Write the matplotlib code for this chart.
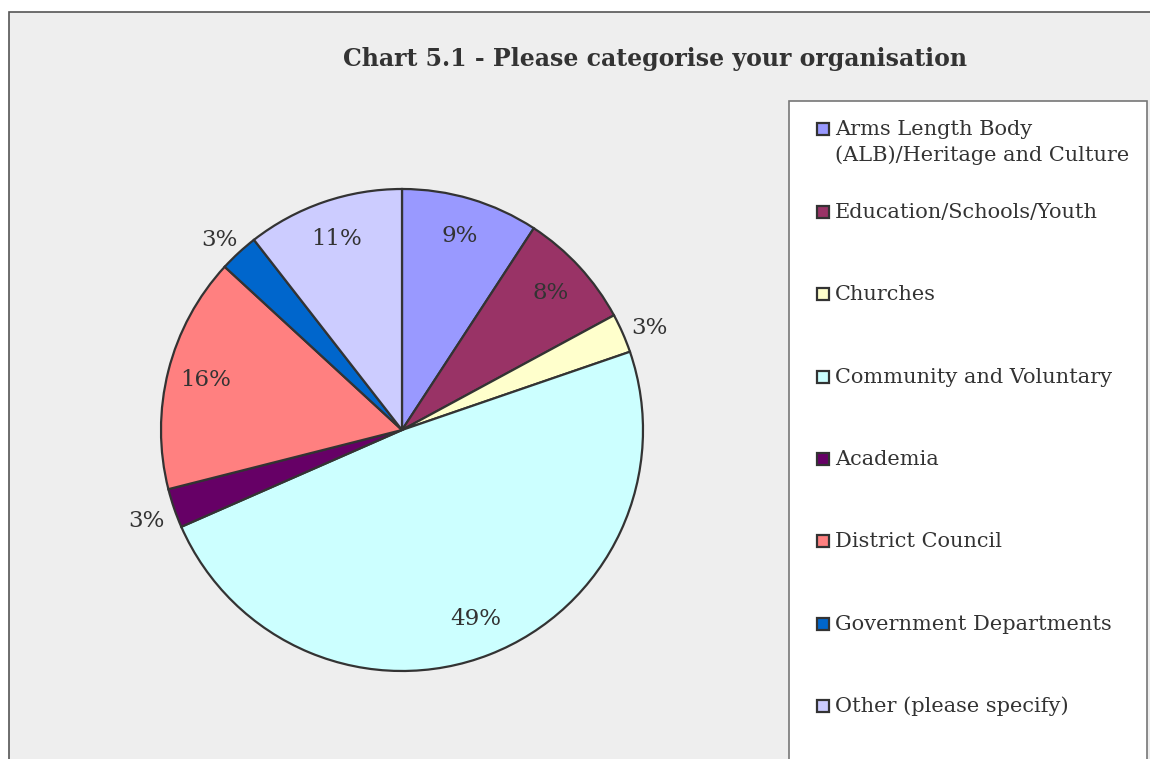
"""Chart 5.1 - pie of organisation categories, Excel-style layout."""

import matplotlib
matplotlib.use("Agg")
import matplotlib.pyplot as plt
import numpy as np
from matplotlib.patches import Rectangle

categories = [
    "Arms Length Body\n(ALB)/Heritage and Culture",
    "Education/Schools/Youth",
    "Churches",
    "Community and Voluntary",
    "Academia",
    "District Council",
    "Government Departments",
    "Other (please specify)",
]
counts = [7, 6, 2, 37, 2, 12, 2, 8]
colours = ["#9999FF", "#993366", "#FFFFCC", "#CCFFFF",
           "#660066", "#FF8080", "#0066CC", "#CCCCFF"]

TITLE = "Chart 5.1 - Please categorise your organisation"
TEXT = "#333333"
EDGE = "#333333"
FONT = "DejaVu Serif"

W, H = 1150, 759
fig = plt.figure(figsize=(W / 100, H / 100), dpi=100)
fig.patch.set_facecolor("white")


def fx(px):
    return px / W


def fy(py):
    return 1 - py / H


# chart area (grey, runs off the bottom of the image)
fig.patches.append(Rectangle((fx(9), fy(800)), fx(1200) - fx(9), fy(12) - fy(800),
                             transform=fig.transFigure, facecolor="#EEEEEE",
                             edgecolor="#555555", linewidth=1.2, zorder=-2))

fig.text(fx(655), fy(59), TITLE, ha="center", va="center", fontsize=17,
         fontweight="bold", color=TEXT, family=FONT)

# pie
cx, cy, r = 402, 430, 241
ax = fig.add_axes([fx(cx - r), fy(cy + r), 2 * r / W, 2 * r / H])
ax.set_zorder(2)
ax.patch.set_visible(False)
wedges, _, autotexts = ax.pie(
    counts, colors=colours, startangle=90, counterclock=False,
    autopct="%.0f%%", pctdistance=0.84,
    wedgeprops=dict(edgecolor=EDGE, linewidth=1.6),
    textprops=dict(fontsize=16.5, color=TEXT, family=FONT),
)
# small slices get their label just outside the rim
total = sum(counts)
for w, t, n in zip(wedges, autotexts, counts):
    if n / total < 0.05:
        mid = np.deg2rad((w.theta1 + w.theta2) / 2)
        t.set_position((1.12 * np.cos(mid), 1.10 * np.sin(mid) - 0.02))
ax.set_xlim(-1, 1)
ax.set_ylim(-1, 1)
ax.set_aspect("equal")
ax.axis("off")

# legend box, drawn by hand to keep Excel's wide spacing
fig.patches.append(Rectangle((fx(789), fy(800)), fx(1147) - fx(789), fy(101) - fy(800),
                             transform=fig.transFigure, facecolor="white",
                             edgecolor="#777777", linewidth=1.2, zorder=-1))
step = 82.3
for i, (lab, col) in enumerate(zip(categories, colours)):
    ly = 129 if i == 0 else 212 + (i - 1) * step
    fig.patches.append(Rectangle((fx(817), fy(ly + 6)), 12 / W, 12 / H,
                                 transform=fig.transFigure, facecolor=col,
                                 edgecolor=EDGE, linewidth=1.6, zorder=1))
    fig.text(fx(835), fy(ly - 9), lab, ha="left", va="top", fontsize=15,
             color=TEXT, family=FONT, linespacing=1.4, zorder=3)

fig.savefig("out.png", dpi=100)
